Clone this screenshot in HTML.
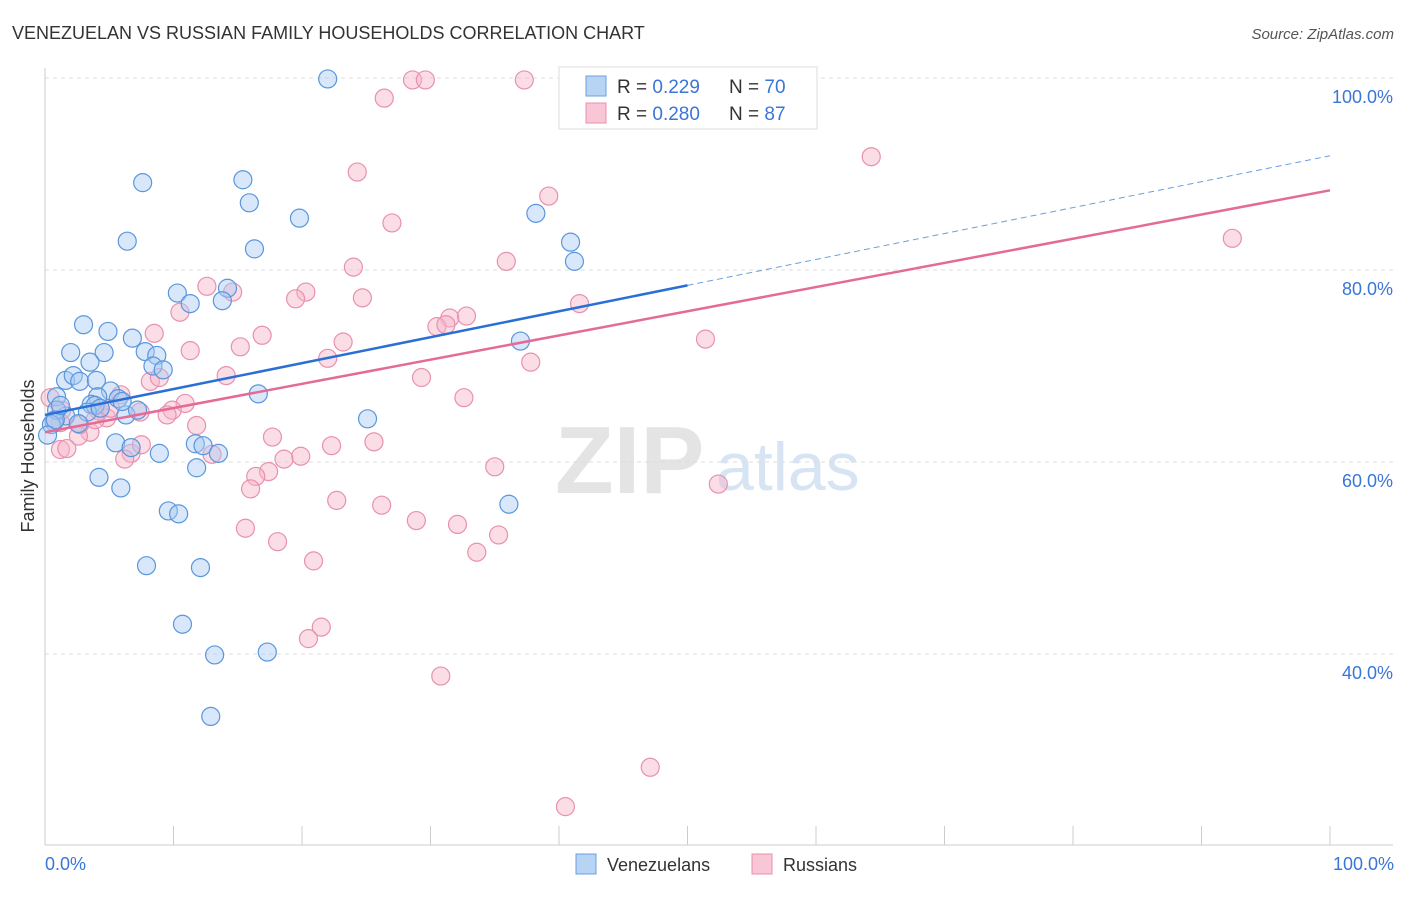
<!DOCTYPE html>
<html><head><meta charset="utf-8"><style>
body{margin:0;background:#fff;font-family:"Liberation Sans",sans-serif;}
svg text{font-family:"Liberation Sans",sans-serif;}
</style></head><body>
<svg id="chart" width="1406" height="892" xmlns="http://www.w3.org/2000/svg">
<text x="12" y="39" font-size="18" fill="#333">VENEZUELAN VS RUSSIAN FAMILY HOUSEHOLDS CORRELATION CHART</text>
<text x="1394" y="39" font-size="15" fill="#555" text-anchor="end" font-style="italic">Source: ZipAtlas.com</text>
<g>
<text x="555" y="493" font-size="96" fill="#e4e4e4" font-family="Liberation Serif" font-weight="bold">ZIP</text>
<text x="716" y="490" font-size="68" fill="#d6e4f3">atlas</text>
</g>
<g id="grid"></g>
<line x1="45" y1="68" x2="45" y2="845" stroke="#ccc"/>
<line x1="45" y1="845" x2="1393" y2="845" stroke="#ccc"/>
<text transform="translate(34,456) rotate(-90)" font-size="18" fill="#333" text-anchor="middle">Family Households</text>
<text x="45" y="870" font-size="18" fill="#3a75d8">0.0%</text>
<text x="1394" y="870" font-size="18" fill="#3a75d8" text-anchor="end">100.0%</text>
<g id="marks"></g>
<g>
<rect x="559" y="67" width="258" height="62" fill="#fff" stroke="#ddd"/>
<rect x="586" y="76" width="20" height="20" fill="#b8d4f5" stroke="#6a9fe0"/>
<rect x="586" y="103" width="20" height="20" fill="#f9c6d5" stroke="#e890b0"/>
<text x="617" y="93" font-size="19" fill="#333">R = <tspan fill="#3a75d8">0.229</tspan></text>
<text x="729" y="93" font-size="19" fill="#333">N = <tspan fill="#3a75d8">70</tspan></text>
<text x="617" y="120" font-size="19" fill="#333">R = <tspan fill="#3a75d8">0.280</tspan></text>
<text x="729" y="120" font-size="19" fill="#333">N = <tspan fill="#3a75d8">87</tspan></text>
</g>
<g>
<rect x="576" y="854" width="20" height="20" fill="#b8d4f5" stroke="#6a9fe0"/>
<text x="607" y="871" font-size="18" fill="#333">Venezuelans</text>
</g>
<g>
<rect x="752" y="854" width="20" height="20" fill="#f9c6d5" stroke="#e890b0"/>
<text x="783" y="871" font-size="18" fill="#333">Russians</text>
</g>
</svg>
<script>
const yTicks=[40,60,80,100];
const yTickLabels=["40.0%","60.0%","80.0%","100.0%"];
const blueX=[22.0,7.6,15.4,15.9,6.4,19.8,16.3,38.2,40.9,41.2,10.3,11.3,14.2,13.8,3.0,4.9,6.8,2.0,4.6,3.5,7.8,8.7,8.4,9.2,1.6,2.2,2.7,4.0,5.1,0.9,4.1,5.7,6.3,7.2,3.6,3.9,3.3,1.6,0.7,0.9,0.5,2.6,16.6,37.0,25.1,5.5,6.7,8.9,11.7,12.3,13.5,11.8,4.2,5.9,9.6,10.4,36.1,7.9,12.1,10.7,13.2,17.3,12.9,0.8,0.2,1.2,4.3,6.0];
const blueY=[99.9,89.1,89.4,87.0,83.0,85.4,82.2,85.9,82.9,80.9,77.6,76.5,78.1,76.8,74.3,73.6,72.9,71.4,71.4,70.4,71.5,71.1,70.0,69.6,68.5,69.0,68.4,68.5,67.4,66.8,66.8,66.6,64.9,65.4,66.0,65.9,65.2,64.8,64.2,65.4,63.9,64.0,67.1,72.6,64.5,62.0,61.5,60.9,61.9,61.7,60.9,59.4,58.4,57.3,54.9,54.6,55.6,49.2,49.0,43.1,39.9,40.2,33.5,64.4,62.8,65.9,65.6,66.3];
const pinkX=[28.6,29.6,37.3,26.4,64.3,24.3,39.2,27.0,92.4,35.9,24.0,12.6,14.6,20.3,19.5,24.7,41.6,10.5,31.5,32.8,30.5,31.2,8.5,16.9,23.2,11.3,15.2,22.0,37.8,51.4,8.2,8.9,14.1,29.3,32.6,10.9,9.9,9.5,5.9,7.4,4.8,4.2,3.5,2.6,1.2,11.8,17.7,22.3,25.6,19.9,18.6,13.0,6.7,6.2,7.5,35.0,17.4,16.4,16.0,52.4,22.7,26.2,28.9,32.1,35.3,15.6,18.1,33.6,20.9,21.5,20.5,30.8,47.1,40.5,1.2,1.7,0.4,0.8,1.3,2.7,3.9,5.1];
const pinkY=[99.8,99.8,99.8,97.9,91.8,90.2,87.7,84.9,83.3,80.9,80.3,78.3,77.7,77.7,77.0,77.1,76.5,75.6,75.0,75.2,74.1,74.3,73.4,73.2,72.5,71.6,72.0,70.8,70.4,72.8,68.4,68.8,69.0,68.8,66.7,66.1,65.4,64.9,67.0,65.2,64.6,65.3,63.1,62.7,64.1,63.8,62.6,61.7,62.1,60.6,60.3,60.8,60.9,60.3,61.8,59.5,59.0,58.5,57.2,57.7,56.0,55.5,53.9,53.5,52.4,53.1,51.7,50.6,49.7,42.8,41.6,37.7,28.2,24.1,61.3,61.4,66.7,64.4,65.4,63.9,64.4,65.6];
const blueTrend=[64.9,91.9];
const pinkTrend=[63.1,88.3];
const NS="http://www.w3.org/2000/svg";
const X0=45,X1=1330,YB=845,YT=78;
function sx(v){return X0+(X1-X0)*v/100;}
function sy(v){return YT+(100-v)*9.6;}
function mk(tag,attrs,parent){const e=document.createElementNS(NS,tag);for(const k in attrs)e.setAttribute(k,attrs[k]);parent.appendChild(e);return e;}
const grid=document.getElementById('grid'),marks=document.getElementById('marks');
yTicks.forEach((t,i)=>{
 const l=mk('line',{x1:45,x2:1393,y1:sy(t),y2:sy(t),stroke:'#ddd','stroke-dasharray':'4,4'},grid);
 
 
 const tx=mk('text',{x:1393,y:sy(t)+25,'font-size':18,fill:'#3a75d8','text-anchor':'end'},grid);
 tx.textContent=yTickLabels[i];
 
 
});
for(let i=0;i<=10;i++){
 const l=mk('line',{x1:sx(i*10),x2:sx(i*10),y1:826,y2:845,stroke:'#ccc'},grid);
 
 
}
function pts(xs,ys,fill,stroke,name){
 xs.forEach((x,i)=>{
  const c=mk('circle',{cx:sx(x),cy:sy(ys[i]),r:9,fill:fill,'fill-opacity':0.45,stroke:stroke,'stroke-width':1.2},marks);
  
  
 });
}
pts(pinkX,pinkY,'#f7b3c8','#e890b0','russian-point');
pts(blueX,blueY,'#a9c9f2','#5a96dd','venezuelan-point');
const bm=blueTrend[0]+(blueTrend[1]-blueTrend[0])*0.5;
let l=mk('line',{x1:sx(0),y1:sy(blueTrend[0]),x2:sx(50),y2:sy(bm),stroke:'#2a6fd6','stroke-width':2.5},marks);


l=mk('line',{x1:sx(50),y1:sy(bm),x2:sx(100),y2:sy(blueTrend[1]),stroke:'#6a9fe0','stroke-width':1,'stroke-dasharray':'6,4'},marks);


l=mk('line',{x1:sx(0),y1:sy(pinkTrend[0]),x2:sx(100),y2:sy(pinkTrend[1]),stroke:'#e46a98','stroke-width':2.5},marks);


</script>
</body></html>
